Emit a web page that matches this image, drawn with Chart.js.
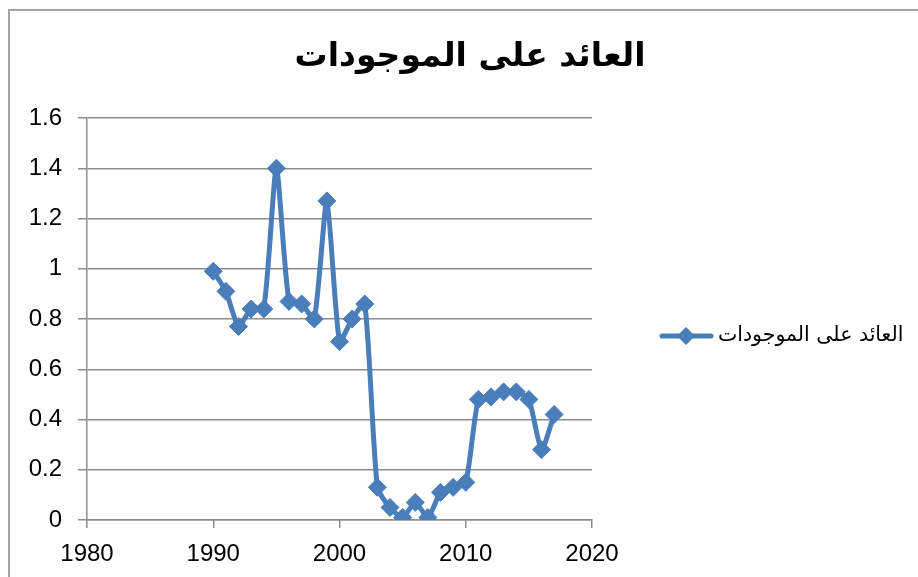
<!DOCTYPE html>
<html>
<head>
<meta charset="utf-8">
<script src="https://cdn.jsdelivr.net/npm/chart.js@4.4.1/dist/chart.umd.min.js"></script>
<style>
  html, body { margin: 0; padding: 0; background: #fff; overflow: hidden; }
  #wrap { position: relative; width: 918px; height: 577px; overflow: hidden; }
  #frame { position: absolute; left: 8px; top: 9px; width: 2000px; height: 2000px; border: 2px solid #a3a3a3; box-sizing: border-box; }
  canvas { position: absolute; left: 0; top: 0; }
</style>
</head>
<body>
<div id="wrap">
  <div id="frame"></div>
  <canvas id="c" width="918" height="577"></canvas>
</div>
<script>
const chartTitle = 'العائد على الموجودات';
const seriesName = 'العائد على الموجودات';
const years = [1990,1991,1992,1993,1994,1995,1996,1997,1998,1999,2000,2001,2002,2003,2004,2005,2006,2007,2008,2009,2010,2011,2012,2013,2014,2015,2016,2017];
const roa   = [0.99,0.91,0.77,0.84,0.84,1.40,0.87,0.86,0.80,1.27,0.71,0.80,0.86,0.13,0.05,0.01,0.07,0.01,0.11,0.13,0.15,0.48,0.49,0.51,0.51,0.48,0.28,0.42];
const xMin = 1980, xMax = 2020, xStep = 10;
const yMin = 0, yMax = 1.6, yStep = 0.2;

const BLUE = '#4a7ebb';
const GRID = '#8c8c8c';

const points = years.map((y, i) => ({ x: y, y: roa[i] }));

const titlePlugin = {
  id: 'customTitle',
  afterDraw(chart) {
    const ctx = chart.ctx;
    ctx.save();
    ctx.font = 'bold 33px "DejaVu Sans", sans-serif';
    ctx.fillStyle = '#000';
    ctx.textAlign = 'center';
    ctx.textBaseline = 'middle';
    ctx.direction = 'rtl';
    ctx.fillText(chartTitle, 470, 57);
    ctx.restore();
  }
};

const legendPlugin = {
  id: 'customLegend',
  afterDraw(chart) {
    const ctx = chart.ctx;
    const ds = chart.data.datasets[0];
    const cy = 336;
    ctx.save();
    ctx.strokeStyle = ds.borderColor;
    ctx.lineWidth = 5;
    ctx.lineCap = 'round';
    ctx.beginPath();
    ctx.moveTo(662, cy);
    ctx.lineTo(711, cy);
    ctx.stroke();
    ctx.fillStyle = ds.backgroundColor;
    ctx.beginPath();
    const r = 9;
    const cx = 686;
    ctx.moveTo(cx - r, cy); ctx.lineTo(cx, cy - r); ctx.lineTo(cx + r, cy); ctx.lineTo(cx, cy + r);
    ctx.closePath();
    ctx.fill();
    ctx.font = '20.5px "DejaVu Sans", sans-serif';
    ctx.fillStyle = '#000';
    ctx.textAlign = 'left';
    ctx.textBaseline = 'middle';
    ctx.direction = 'rtl';
    ctx.fillText(ds.label, 718, cy);
    ctx.restore();
  }
};

new Chart(document.getElementById('c'), {
  type: 'line',
  data: {
    datasets: [{
      label: seriesName,
      data: points,
      borderColor: BLUE,
      backgroundColor: BLUE,
      borderWidth: 5,
      pointStyle: 'rectRot',
      pointRadius: 9,
      pointBorderWidth: 1,
      pointBackgroundColor: BLUE,
      pointBorderColor: BLUE,
      tension: 0.2
    }]
  },
  options: {
    responsive: false,
    animation: false,
    devicePixelRatio: 1,
    layout: { padding: { left: 0, top: 118, right: 326, bottom: 0 } },
    plugins: {
      legend: { display: false },
      title: { display: false },
      tooltip: { enabled: false }
    },
    scales: {
      x: {
        type: 'linear',
        min: xMin, max: xMax,
        afterFit(s) { s.height = 57; },
        ticks: {
          stepSize: xStep,
          color: '#000',
          padding: 12,
          font: { family: '"Liberation Sans", Arial, sans-serif', size: 24 },
          callback: v => String(v)
        },
        grid: { drawOnChartArea: false, drawTicks: true, tickLength: 8, color: GRID, lineWidth: 1.5 },
        border: { display: true, color: GRID, width: 1.5 }
      },
      y: {
        min: yMin, max: yMax,
        afterFit(s) { s.width = 87; },
        ticks: {
          stepSize: yStep,
          color: '#000',
          padding: 16,
          font: { family: '"Liberation Sans", Arial, sans-serif', size: 24 },
          callback: v => String(Math.round(v * 10) / 10)
        },
        grid: { drawTicks: true, tickLength: 9, color: GRID, lineWidth: 1.5 },
        border: { display: true, color: GRID, width: 1.5 }
      }
    }
  },
  plugins: [titlePlugin, legendPlugin]
});
</script>
</body>
</html>
